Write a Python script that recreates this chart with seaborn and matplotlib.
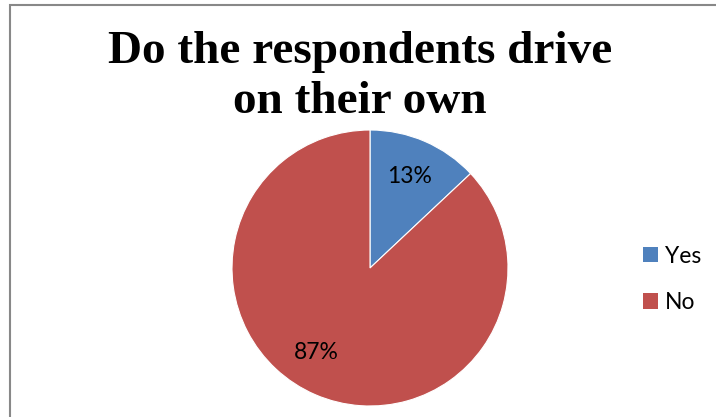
import matplotlib
matplotlib.use("Agg")
import matplotlib.pyplot as plt
from matplotlib.patches import Rectangle, Patch
import seaborn as sns

labels = ["Yes", "No"]
shares = [13, 87]
colors = ["#4F81BD", "#C0504D"]
title = "Do the respondents drive\non their own"

sns.set_theme(style="white")
plt.rcParams["font.family"] = ["Lato", "DejaVu Sans"]
plt.rcParams["text.color"] = "black"

W, H = 716, 417
fig = plt.figure(figsize=(W / 100, H / 100), dpi=100)

# chart frame (open at the right and bottom edges)
fig.patches.append(Rectangle((9.5 / W, -0.05), 1.2, (H - 5) / H + 0.05,
                             transform=fig.transFigure, fill=False,
                             edgecolor="#888888", linewidth=1.5))

cx, cy, r = 370, 268, 138
ax = fig.add_axes([(cx - r) / W, (H - cy - r) / H, 2 * r / W, 2 * r / H])
wedges, texts, autotexts = ax.pie(
    shares, colors=colors, startangle=90, counterclock=False,
    autopct="%d%%", pctdistance=0.72, radius=1.0,
    wedgeprops=dict(linewidth=0.8, edgecolor="white"),
    textprops=dict(fontsize=16.5, color="black"),
)
# the large slice's label sits a little further round, toward the lower left
autotexts[1].set_position((-0.39, -0.61))
ax.set_xlim(-1, 1)
ax.set_ylim(-1, 1)
ax.set_aspect("equal")
ax.axis("off")

fig.text(360 / W, 1 - 113 / H, title, ha="center", va="baseline",
         multialignment="center", family="Liberation Serif",
         fontweight="bold", fontsize=34, color="black", linespacing=1.26)

handles = [Patch(facecolor=c, edgecolor="none") for c in colors]
fig.legend(handles, labels, loc="center left",
           bbox_to_anchor=(643 / W, 1 - 279.5 / H), frameon=False,
           borderpad=0, borderaxespad=0,
           fontsize=16.5, handlelength=0.65, handleheight=0.65,
           handletextpad=0.3, labelspacing=1.1)

fig.savefig("out.png", dpi=100)
